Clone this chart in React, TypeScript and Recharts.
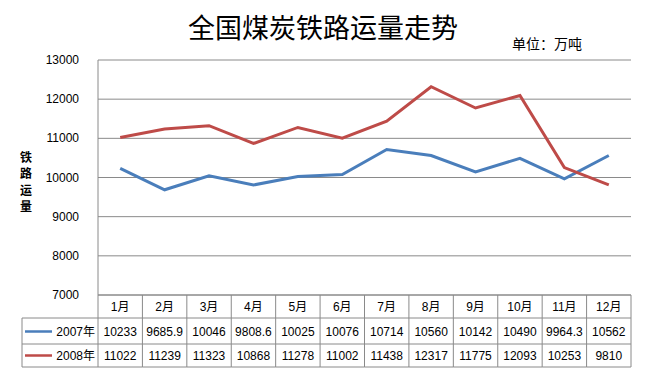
import { CartesianGrid, ComposedChart, Line, XAxis, YAxis } from "recharts";

const months = ["1月", "2月", "3月", "4月", "5月", "6月", "7月", "8月", "9月", "10月", "11月", "12月"];
const seriesNames = ["2007年", "2008年"];
const values2007 = [10233, 9685.9, 10046, 9808.6, 10025, 10076, 10714, 10560, 10142, 10490, 9964.3, 10562];
const values2008 = [11022, 11239, 11323, 10868, 11278, 11002, 11438, 12317, 11775, 12093, 10253, 9810];
const yTicks = [7000, 8000, 9000, 10000, 11000, 12000, 13000];

const lineColors = ["#4a7ebb", "#be4b48"];
const gridColor = "#8a8a8a";
const font = '"Liberation Sans", "Noto Sans CJK SC", sans-serif';
const cjk = '"Noto Sans CJK SC", sans-serif';

const W = 646;
const H = 373;
const margin = { top: 60, right: 15, bottom: 6, left: 0 };
const yAxisWidth = 98;
// width of one table column = one category slot of the x axis
const colW = (W - margin.left - margin.right - yAxisWidth) / months.length;

const data = months.map((m, i) => ({ month: m, y2007: values2007[i], y2008: values2008[i] }));
const seriesValues = [values2007, values2008];

function YTick(props: any) {
  const { x, y, payload } = props;
  return (
    <text x={x - 11} y={y} textAnchor="end" dominantBaseline="central" fontSize={12} fontFamily={font} fill="#000">
      {payload.value}
    </text>
  );
}

function YTitle(props: any) {
  const vb = props.viewBox || { y: 60, height: 235 };
  const cy = vb.y + vb.height / 2 + 3.5;
  const chars = "铁路运量".split("");
  return (
    <g>
      {chars.map((c, i) => (
        <text key={c} x={26} y={cy + (i - 1.5) * 16.5} textAnchor="middle" dominantBaseline="central"
          fontSize={12} fontWeight="bold" fontFamily={cjk} fill="#000">
          {c}
        </text>
      ))}
    </g>
  );
}

// each x tick draws its own column of the data table under the plot
function TableTick(props: any) {
  const { x, y, payload, index } = props;
  const n = months.length;
  const left = x - colW / 2;
  const right = x + colW / 2;
  const top = y;
  const rowB = [top + 23, top + 49, top + 72];
  const i = index ?? payload.index;
  const last = i === n - 1;
  return (
    <g>
      <line x1={left} x2={left} y1={top} y2={rowB[2]} stroke={gridColor} />
      {last && <line x1={right} x2={right} y1={top} y2={rowB[2]} stroke={gridColor} />}
      {rowB.map((ry) => (
        <line key={ry} x1={left} x2={right} y1={ry} y2={ry} stroke={gridColor} />
      ))}
      <text x={x} y={top + 12} textAnchor="middle" dominantBaseline="central" fontSize={12} fontFamily={font} fill="#000">
        {payload.value}
      </text>
      {seriesValues.map((vals, s) => (
        <text key={s} x={x} y={top + 36.5 + s * 24} textAnchor="middle" dominantBaseline="central"
          fontSize={12} fontFamily={font} fill="#000">
          {vals[i]}
        </text>
      ))}
      {i === 0 && (
        <g>
          <line x1={22} x2={left} y1={rowB[0]} y2={rowB[0]} stroke={gridColor} />
          <line x1={22} x2={left} y1={rowB[1]} y2={rowB[1]} stroke={gridColor} />
          <line x1={22} x2={left} y1={rowB[2]} y2={rowB[2]} stroke={gridColor} />
          <line x1={22} x2={22} y1={rowB[0]} y2={rowB[2]} stroke={gridColor} />
          {seriesNames.map((nm, s) => (
            <g key={nm}>
              <line x1={25} x2={52} y1={top + 36.5 + s * 24} y2={top + 36.5 + s * 24} stroke={lineColors[s]} strokeWidth={2.5} />
              <text x={left - 3} y={top + 36.5 + s * 24} textAnchor="end" dominantBaseline="central"
                fontSize={12} fontFamily={font} fill="#000">
                {nm}
              </text>
            </g>
          ))}
        </g>
      )}
    </g>
  );
}

export default function App() {
  return (
    <div style={{ position: "absolute", left: 0, top: 0, width: W, height: H, background: "#fff" }}>
      <div style={{ position: "absolute", left: 0, top: 8, width: W, textAlign: "center", fontFamily: cjk, fontSize: 27, lineHeight: "38px", color: "#000" }}>
        全国煤炭铁路运量走势
      </div>
      <div style={{ position: "absolute", left: 512, top: 34, fontFamily: cjk, fontSize: 14, lineHeight: "18px", color: "#000" }}>
        单位：万吨
      </div>
      <ComposedChart width={W} height={H} data={data} margin={margin}>
        <CartesianGrid vertical={false} stroke={gridColor} strokeWidth={1} />
        <XAxis dataKey="month" height={72} axisLine={{ stroke: gridColor }} tickLine={false} tickSize={0} tickMargin={0}
          interval={0} padding={{ left: colW / 2, right: colW / 2 }} tick={<TableTick />} />
        <YAxis width={yAxisWidth} domain={[7000, 13000]} ticks={yTicks} axisLine={{ stroke: gridColor }} tickLine={false}
          tick={<YTick />} label={<YTitle />} />
        <Line dataKey="y2007" name={seriesNames[0]} stroke={lineColors[0]} strokeWidth={3} dot={false} isAnimationActive={false} />
        <Line dataKey="y2008" name={seriesNames[1]} stroke={lineColors[1]} strokeWidth={3} dot={false} isAnimationActive={false} />
      </ComposedChart>
    </div>
  );
}
